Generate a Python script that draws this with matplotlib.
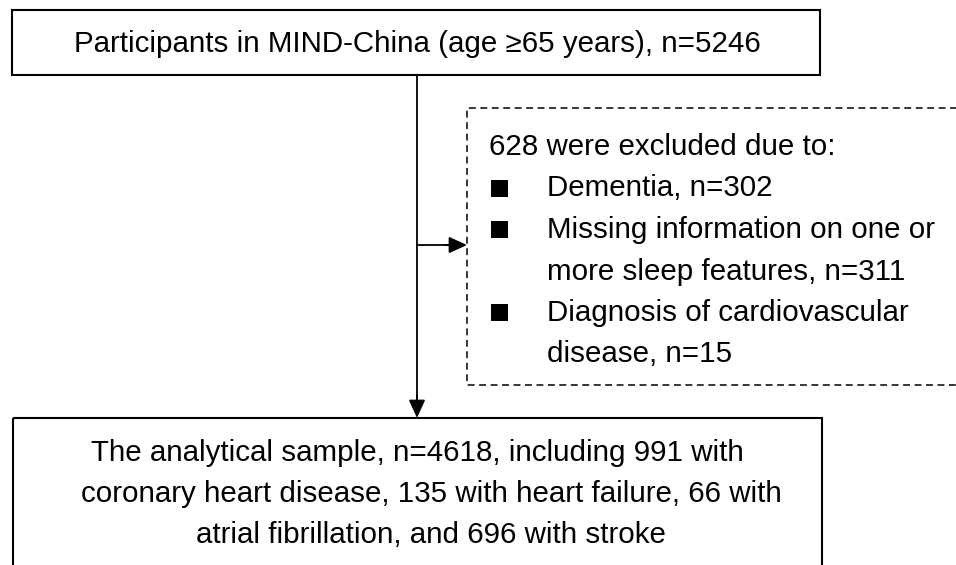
import matplotlib
matplotlib.use("Agg")
import matplotlib.pyplot as plt
from matplotlib.patches import Rectangle, FancyArrowPatch

# ---- content ----
top_text = "Participants in MIND-China (age \u226565 years), n=5246"
excl_header = "628 were excluded due to:"
excl_items = [["Dementia, n=302"],
              ["Missing information on one or", "more sleep features, n=311"],
              ["Diagnosis of cardiovascular", "disease, n=15"]]
bottom_lines = ["The analytical sample, n=4618, including 991 with",
                "coronary heart disease, 135 with heart failure, 66 with",
                "atrial fibrillation, and 696 with stroke"]

W, H = 956, 565
fig = plt.figure(figsize=(W/100, H/100), dpi=100)
ax = fig.add_axes([0, 0, 1, 1])
ax.set_xlim(0, W)
ax.set_ylim(H, 0)
ax.axis("off")

FONT = "Liberation Sans"

# fit font size to measured width of the top line
fig.canvas.draw()
r = fig.canvas.get_renderer()
t = ax.text(0, 0, top_text, fontsize=20, family=FONT)
w = t.get_window_extent(renderer=r).width
t.remove()
fs = 20 * 684 / w

# top box
ax.add_patch(Rectangle((12, 10), 808, 65, fill=False, lw=1.5, ec="black"))
ax.text(417, 52, top_text, fontsize=fs, family=FONT, ha="center", va="baseline")

# bottom box (extends past the bottom edge)
ax.add_patch(Rectangle((13, 418), 809, 250, fill=False, lw=1.5, ec="black", clip_on=True))
centers = [417.5, 431, 431]
for i, (line, cx) in enumerate(zip(bottom_lines, centers)):
    ax.text(cx, 461 + 41 * i, line, fontsize=fs, family=FONT, ha="center", va="baseline")

# dashed exclusion box (open to the right)
dash = dict(color="black", lw=1.1, linestyle=(0, (4.5, 3)), solid_capstyle="butt")
ax.plot([1000, 467, 467, 1000], [108, 108, 385, 385], **dash)

# exclusion text
base = 155
step = 41.5
ax.text(489, base, excl_header, fontsize=fs, family=FONT, ha="left", va="baseline")
row = 1
for item in excl_items:
    y0 = base + step * row
    ax.add_patch(Rectangle((491, y0 - 17), 17, 17, color="black", lw=0))
    for j, line in enumerate(item):
        ax.text(547, base + step * row, line, fontsize=fs, family=FONT,
                ha="left", va="baseline")
        row += 1

# arrows
ax.plot([417, 417], [75, 404], color="black", lw=1.3)
ax.add_patch(FancyArrowPatch((417, 395), (417, 418), arrowstyle="-|>,head_length=11,head_width=5",
                             mutation_scale=1, color="black", lw=1.3, shrinkA=0, shrinkB=0))
ax.plot([417, 455], [245, 245], color="black", lw=1.3)
ax.add_patch(FancyArrowPatch((445, 245), (467, 245), arrowstyle="-|>,head_length=11,head_width=5",
                             mutation_scale=1, color="black", lw=1.3, shrinkA=0, shrinkB=0))

fig.savefig("out.png", dpi=100)
